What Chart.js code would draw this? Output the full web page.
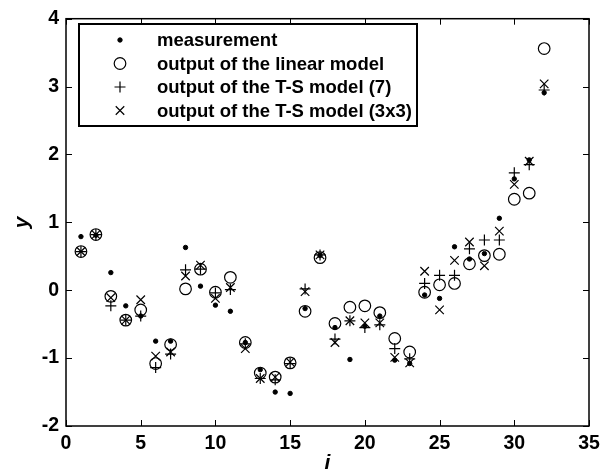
<!DOCTYPE html>
<html>
<head>
<meta charset="utf-8">
<script src="https://cdn.jsdelivr.net/npm/chart.js@4.4.1/dist/chart.umd.min.js"></script>
<style>
html,body{margin:0;padding:0;background:#fff;}
canvas{display:block;}
</style>
</head>
<body>
<canvas id="c" width="611" height="474"></canvas>
<script>
// ---- data ----
const sampleIndex = [1,2,3,4,5,6,7,8,9,10,11,12,13,14,15,16,17,18,19,20,21,22,23,24,25,26,27,28,29,30,31,32];
const measurement = [0.79,0.81,0.26,-0.23,-0.38,-0.75,-0.75,0.63,0.06,-0.22,-0.31,-0.77,-1.17,-1.50,-1.52,-0.27,0.51,-0.55,-1.02,-0.53,-0.38,-1.03,-1.08,-0.07,-0.12,0.64,0.46,0.54,1.06,1.64,1.92,2.91];
const linearModel = [0.57,0.82,-0.09,-0.44,-0.29,-1.08,-0.80,0.02,0.31,-0.03,0.19,-0.77,-1.22,-1.28,-1.07,-0.31,0.48,-0.49,-0.25,-0.23,-0.33,-0.71,-0.91,-0.03,0.08,0.10,0.39,0.51,0.53,1.34,1.43,3.56];
const tsModel7 = [0.57,0.82,-0.23,-0.44,-0.38,-1.14,-0.94,0.30,0.31,-0.04,0.01,-0.79,-1.30,-1.32,-1.08,0.02,0.52,-0.72,-0.45,-0.55,-0.51,-0.86,-1.01,0.10,0.22,0.22,0.61,0.74,0.74,1.73,1.85,2.95];
const tsModel3x3 = [0.57,0.82,-0.11,-0.44,-0.14,-0.97,-0.91,0.21,0.37,-0.12,0.04,-0.86,-1.30,-1.28,-1.06,-0.02,0.52,-0.77,-0.45,-0.48,-0.48,-0.99,-1.07,0.28,-0.29,0.44,0.71,0.36,0.87,1.56,1.90,3.04];
const seriesNames = ['measurement','output of the linear model','output of the T-S model (7)','output of the T-S model (3x3)'];
const xTitle = 'i';
const yTitle = 'y';

const pts = arr => sampleIndex.map((x,k)=>({x:x, y:arr[k]}));

const FONT = '"Liberation Sans", Arial, sans-serif';

const framePlugin = {
  id:'frame',
  afterDraw(chart){
    const ctx = chart.ctx;
    const a = chart.chartArea;
    const xs = chart.scales.x, ys = chart.scales.y;
    ctx.save();
    ctx.strokeStyle = '#000';
    ctx.lineWidth = 1.5;
    ctx.strokeRect(a.left, a.top, a.right-a.left, a.bottom-a.top);
    const tl = 6;
    ctx.lineWidth = 1;
    ctx.beginPath();
    xs.ticks.forEach(t=>{
      const px = Math.round(xs.getPixelForValue(t.value))+0.5;
      ctx.moveTo(px, a.bottom); ctx.lineTo(px, a.bottom-tl);
      ctx.moveTo(px, a.top); ctx.lineTo(px, a.top+tl);
    });
    ys.ticks.forEach(t=>{
      const py = Math.round(ys.getPixelForValue(t.value))+0.5;
      ctx.moveTo(a.left, py); ctx.lineTo(a.left+tl, py);
      ctx.moveTo(a.right, py); ctx.lineTo(a.right-tl, py);
    });
    ctx.stroke();

    // legend box inside the plot
    const lx = 79, ly = 24, lw = 338, lh = 102;
    ctx.fillStyle = '#fff';
    ctx.fillRect(lx, ly, lw, lh);
    ctx.lineWidth = 2;
    ctx.strokeRect(lx, ly, lw, lh);
    const rowY = [40, 63.5, 87, 110.5];
    ctx.font = 'bold 18.5px ' + FONT;
    ctx.textBaseline = 'middle';
    ctx.textAlign = 'left';
    chart.data.datasets.forEach((ds,i)=>{
      ctx.save();
      ctx.strokeStyle = '#000';
      ctx.fillStyle = ds.pointBackgroundColor;
      ctx.lineWidth = ds.pointBorderWidth;
      Chart.helpers.drawPoint(ctx, {pointStyle: ds.pointStyle, radius: ds.pointRadius, borderWidth: ds.pointBorderWidth, rotation:0}, 120, rowY[i]);
      ctx.restore();
      ctx.fillStyle = '#000';
      ctx.fillText(seriesNames[i], 157, rowY[i]+1);
    });
    ctx.restore();
  }
};

new Chart(document.getElementById('c'), {
  type:'scatter',
  data:{
    datasets:[
      {label:seriesNames[0], data:pts(measurement), pointStyle:'circle', pointRadius:2.2, pointBorderWidth:1, pointBackgroundColor:'#000', pointBorderColor:'#000'},
      {label:seriesNames[1], data:pts(linearModel), pointStyle:'circle', pointRadius:5.8, pointBorderWidth:1.2, pointBackgroundColor:'rgba(0,0,0,0)', pointBorderColor:'#000'},
      {label:seriesNames[2], data:pts(tsModel7), pointStyle:'cross', pointRadius:5.5, pointBorderWidth:1.2, pointBackgroundColor:'rgba(0,0,0,0)', pointBorderColor:'#000'},
      {label:seriesNames[3], data:pts(tsModel3x3), pointStyle:'crossRot', pointRadius:6, pointBorderWidth:1.2, pointBackgroundColor:'rgba(0,0,0,0)', pointBorderColor:'#000'}
    ]
  },
  options:{
    responsive:false,
    devicePixelRatio:1,
    animation:false,
    layout:{padding:{top:14,right:22,left:0,bottom:0}},
    plugins:{legend:{display:false}, tooltip:{enabled:false}},
    elements:{point:{hoverRadius:0}},
    scales:{
      x:{
        type:'linear', min:0, max:35,
        afterFit(s){ s.height = 48; },
        ticks:{stepSize:5, color:'#000', padding:6, maxRotation:0, font:{family:FONT, size:19.5, weight:'bold'}},
        grid:{display:false, drawTicks:false},
        border:{display:false},
        title:{display:true, text:xTitle, color:'#000', font:{family:FONT, size:21, weight:'bold', style:'italic', lineHeight:1}, padding:{top:0,bottom:0}}
      },
      y:{
        type:'linear', min:-2, max:4,
        afterFit(s){ s.width = 66; },
        ticks:{stepSize:1, color:'#000', padding:7, font:{family:FONT, size:19.5, weight:'bold'}},
        grid:{display:false, drawTicks:false},
        border:{display:false},
        title:{display:true, text:yTitle, color:'#000', font:{family:FONT, size:21, weight:'bold', style:'italic', lineHeight:1}, padding:{top:12,bottom:0}}
      }
    }
  },
  plugins:[framePlugin]
});
</script>
</body>
</html>
